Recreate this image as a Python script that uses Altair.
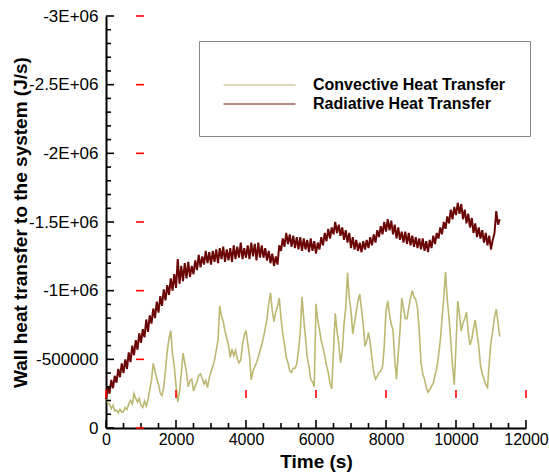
import altair as alt
import pandas as pd

# ---------------- data (values in thousands of J/s, sampled every 50 s) ----------------
series_names = ["Convective Heat Transfer", "Radiative Heat Transfer"]
series_colors = ["#b8b46a", "#6b0606"]

time_s = list(range(0, 11251, 50))

conv_v = [-230, -180, -175, -140, -165, -125, -130, -110, -135, -115,
          -120, -150, -135, -175, -200, -175, -250, -215, -190, -215,
          -165, -150, -195, -160, -205, -280, -350, -470, -415, -360,
          -315, -255, -235, -300, -420, -560, -650, -710, -540, -450,
          -310, -190, -265, -390, -545, -475, -405, -300, -345, -355,
          -270, -305, -335, -385, -395, -360, -320, -345, -295, -365,
          -410, -445, -495, -565, -640, -890, -815, -775, -705, -655,
          -600, -515, -575, -525, -565, -505, -475, -495, -605, -675,
          -710, -615, -525, -350, -415, -445, -475, -515, -565, -605,
          -660, -725, -795, -905, -985, -855, -775, -845, -885, -945,
          -800, -685, -605, -515, -475, -415, -405, -435, -435, -465,
          -565, -695, -955, -795, -655, -515, -445, -355, -335, -300,
          -905, -785, -715, -635, -585, -525, -455, -405, -325, -285,
          -565, -835, -705, -615, -475, -555, -755, -875, -1130, -945,
          -855, -685, -765, -845, -925, -975, -865, -755, -595, -635,
          -695, -615, -505, -405, -355, -375, -405, -415, -445, -595,
          -855, -925, -825, -755, -715, -495, -355, -545, -705, -945,
          -875, -795, -795, -875, -945, -1000, -955, -935, -875, -705,
          -475, -395, -355, -295, -260, -280, -305, -325, -385, -435,
          -525, -635, -795, -945, -1136, -935, -805, -635, -455, -315,
          -605, -925, -825, -705, -765, -795, -845, -695, -605, -645,
          -725, -785, -685, -595, -455, -395, -355, -315, -295, -475,
          -625, -705, -805, -865, -765, -665]

rad_v = [-210, -300, -250, -350, -290, -380, -330, -430, -370, -470,
         -400, -500, -430, -550, -480, -600, -530, -640, -570, -690,
         -620, -720, -660, -790, -700, -820, -760, -870, -800, -920,
         -840, -960, -890, -1010, -930, -1040, -970, -1090, -1000, -1120,
         -1020, -1230, -1050, -1180, -1070, -1200, -1090, -1210, -1100, -1180,
         -1120, -1220, -1150, -1260, -1170, -1250, -1190, -1290, -1200, -1280,
         -1190, -1290, -1210, -1300, -1200, -1310, -1230, -1320, -1210, -1300,
         -1220, -1310, -1210, -1330, -1230, -1320, -1240, -1350, -1230, -1310,
         -1240, -1330, -1230, -1350, -1250, -1340, -1220, -1350, -1240, -1330,
         -1240, -1310, -1220, -1290, -1200, -1270, -1180, -1250, -1190, -1330,
         -1290, -1380, -1320, -1420, -1340, -1410, -1320, -1400, -1310, -1390,
         -1300, -1390, -1290, -1380, -1300, -1370, -1280, -1380, -1290, -1360,
         -1270, -1350, -1300, -1390, -1330, -1420, -1360, -1450, -1380, -1460,
         -1410, -1500, -1420, -1480, -1400, -1460, -1370, -1440, -1350, -1420,
         -1310, -1390, -1300, -1370, -1290, -1350, -1280, -1360, -1300, -1370,
         -1310, -1390, -1330, -1410, -1350, -1440, -1390, -1470, -1410, -1500,
         -1430, -1520, -1440, -1510, -1410, -1480, -1380, -1460, -1370, -1430,
         -1350, -1430, -1340, -1420, -1330, -1400, -1320, -1390, -1310, -1380,
         -1300, -1380, -1290, -1360, -1280, -1370, -1310, -1400, -1340, -1420,
         -1380, -1460, -1410, -1500, -1450, -1540, -1490, -1590, -1520, -1610,
         -1550, -1640, -1560, -1630, -1520, -1590, -1490, -1560, -1460, -1530,
         -1420, -1490, -1390, -1460, -1380, -1440, -1350, -1420, -1330, -1400,
         -1300, -1370, -1420, -1580, -1480, -1520]

y_major_values = [0, -500, -1000, -1500, -2000, -2500, -3000]
y_major_labels = ["0", "-500000", "-1E+06", "-1.5E+06", "-2E+06", "-2.5E+06", "-3E+06"]
y_minor_values = [-100 * i for i in range(31) if i % 5 != 0]
x_major_values = [0, 2000, 4000, 6000, 8000, 10000, 12000]
x_major_labels = ["0", "2000", "4000", "6000", "8000", "10000", "12000"]
x_minor_values = [500 * i for i in range(25) if i % 4 != 0]

line_df = pd.concat([
    pd.DataFrame({"t": time_s, "v": conv_v, "series": series_names[0]}),
    pd.DataFrame({"t": time_s, "v": rad_v, "series": series_names[1]}),
], ignore_index=True)

FONT = "Liberation Sans"
W, H = 420, 412


def label_expr(values, labels):
    parts = [f"datum.value == {v} ? '{l}'" for v, l in zip(values, labels)]
    return " : ".join(parts) + " : ''"


x_scale = alt.Scale(domain=[0, 12000], nice=False, zero=False)
y_scale = alt.Scale(domain=[-3000, 0], reverse=True, nice=False, zero=False)

x_axis = alt.Axis(
    orient="bottom", values=x_major_values, labelExpr=label_expr(x_major_values, x_major_labels),
    ticks=False, grid=False, domain=True, domainColor="black", domainWidth=2,
    labelFont=FONT, labelFontSize=16, labelColor="black", labelPadding=3, labelFlush=False,
    title="Time (s)", titleFont=FONT, titleFontSize=19, titleFontWeight="bold", titleColor="black",
    titlePadding=5)
y_axis = alt.Axis(
    orient="left", values=y_major_values, labelExpr=label_expr(y_major_values, y_major_labels),
    ticks=False, grid=False, domain=True, domainColor="black", domainWidth=2,
    labelFont=FONT, labelFontSize=17, labelColor="black", labelPadding=8, labelFlush=False,
    title="Wall heat transfer to the system (J/s)", titleFont=FONT, titleFontSize=19,
    titleFontWeight="bold", titleColor="black", titleAngle=270, titleAlign="center",
    titleBaseline="middle", titleX=-86, titleY=H / 2)

color_enc = alt.Color(
    "series:N", scale=alt.Scale(domain=series_names, range=series_colors),
    legend=alt.Legend(
        orient="none", legendX=93, legendY=25, title=" ", titleFontSize=1,
        titlePadding=12, padding=24, strokeColor="#888888", fillColor="white",
        cornerRadius=0, labelFont=FONT, labelFontSize=16, labelFontWeight="bold",
        labelColor="black", labelLimit=400, symbolType="stroke", symbolSize=5184,
        symbolStrokeWidth=1, labelOffset=17, clipHeight=14, rowPadding=3))

conv_line = alt.Chart(line_df).transform_filter(alt.datum.series == series_names[0]).mark_line(
    strokeWidth=1.6, opacity=0.95).encode(
    x=alt.X("t:Q", scale=x_scale, axis=x_axis),
    y=alt.Y("v:Q", scale=y_scale, axis=y_axis),
    color=color_enc,
)
rad_line = alt.Chart(line_df).transform_filter(alt.datum.series == series_names[1]).mark_line(
    strokeWidth=2.0).encode(
    x=alt.X("t:Q", scale=x_scale, axis=x_axis),
    y=alt.Y("v:Q", scale=y_scale, axis=y_axis),
    color=color_enc,
)


def y_ticks(values, x0, length, color):
    return alt.Chart(pd.DataFrame({"v": values})).mark_rule(color=color, strokeWidth=1.6).encode(
        y=alt.Y("v:Q", scale=y_scale), x=alt.value(x0), x2=alt.value(x0 + length))


def x_ticks(values, y0, length, color):
    return alt.Chart(pd.DataFrame({"t": values})).mark_rule(color=color, strokeWidth=1.6).encode(
        x=alt.X("t:Q", scale=x_scale), y=alt.value(y0), y2=alt.value(y0 - length))


chart = alt.layer(
    conv_line, rad_line,
    y_ticks(y_major_values, 0, 8, "black"), y_ticks(y_minor_values, 0, 5, "black"),
    x_ticks(x_major_values, H, 8, "black"), x_ticks(x_minor_values, H, 5, "black"),
    y_ticks(y_major_values, 30, 8, "red"), x_ticks(x_major_values, H - 30, 8, "red"),
).properties(
    width=W, height=H,
    autosize=alt.AutoSizeParams(type="none"),
    padding={"left": 106, "top": 16, "right": 23, "bottom": 47},
    background="white",
).configure_view(stroke=None)

chart.save("out.html", embed_options={"renderer": "svg", "actions": False})
